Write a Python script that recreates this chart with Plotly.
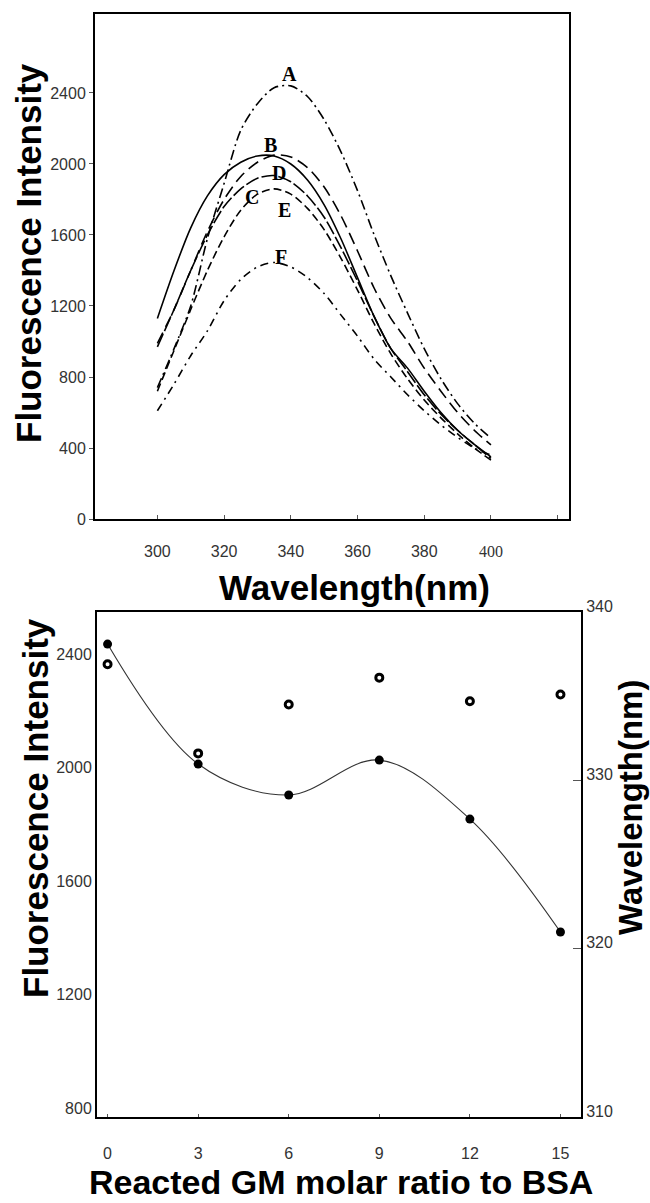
import plotly.graph_objects as go

# ---------------- data: top panel (emission spectra) ----------------
wavelength = [300, 305, 310, 315, 320, 325, 330, 335, 340, 345, 350,
              355, 360, 365, 370, 375, 380, 385, 390, 395, 400]
spec_A = [740, 960, 1200, 1580, 1890, 2190, 2340, 2430, 2440, 2380, 2250,
          2070, 1850, 1600, 1370, 1160, 960, 790, 650, 540, 456]
spec_B = [1130, 1400, 1640, 1820, 1940, 2010, 2045, 2045, 2000, 1910, 1770,
          1580, 1360, 1140, 960, 850, 720, 600, 500, 420, 350]
spec_C = [970, 1180, 1400, 1600, 1760, 1860, 1920, 1935, 1900, 1820, 1700,
          1530, 1340, 1140, 960, 830, 700, 590, 500, 420, 342]
spec_D = [990, 1180, 1400, 1620, 1800, 1930, 2010, 2050, 2040, 1980, 1870,
          1710, 1510, 1300, 1130, 1000, 850, 720, 600, 500, 417]
spec_E = [720, 950, 1180, 1400, 1590, 1740, 1830, 1860, 1830, 1750, 1630,
          1470, 1290, 1100, 930, 790, 670, 570, 480, 400, 332]
spec_F = [610, 760, 920, 1060, 1230, 1350, 1420, 1445, 1420, 1360, 1270,
          1150, 1030, 900, 800, 700, 610, 530, 460, 400, 360]
spec_names = ["A", "B", "C", "D", "E", "F"]

top_xtick_vals = [300, 320, 340, 360, 380, 400, 420]
top_xtick_text = ["300", "320", "340", "360", "380",
                  '<span style="font-family:Liberation Serif">400</span>', ""]
top_ytick_vals = [0, 400, 800, 1200, 1600, 2000, 2400]

# ---------------- data: bottom panel ----------------
gm_ratio = [0, 3, 6, 9, 12, 15]
max_intensity = [2467, 2044, 1935, 2058, 1850, 1452]
max_wavelength = [336.9, 331.6, 334.5, 336.1, 334.7, 335.1]
bot_xtick_vals = [0, 3, 6, 9, 12, 15]
bot_ytick_vals = [800, 1200, 1600, 2000, 2400]
bot_y2tick_vals = [310, 320, 330, 340]

# ---------------- figure ----------------
W, H = 650, 1203
fig = go.Figure()

styles = {
    "A": "10px,4px,2px,4px",
    "B": "solid",
    "C": "14px,3px",
    "D": "12px,6px",
    "E": "8px,4px",
    "F": "8px,5px,2px,5px",
}
series = [spec_A, spec_B, spec_C, spec_D, spec_E, spec_F]
for name, vals in zip(spec_names, series):
    fig.add_trace(go.Scatter(
        x=wavelength, y=vals, mode="lines", name=name,
        line=dict(color="black", width=1.6, dash=styles[name], shape="spline", smoothing=0.8),
        xaxis="x", yaxis="y", showlegend=False, hoverinfo="skip"))

# bottom panel
fig.add_trace(go.Scatter(
    x=gm_ratio, y=max_intensity, mode="lines+markers",
    line=dict(color="#333", width=1.1, shape="spline", smoothing=1.0),
    marker=dict(symbol="circle", size=9, color="black"),
    xaxis="x2", yaxis="y2", showlegend=False))
fig.add_trace(go.Scatter(
    x=gm_ratio, y=max_wavelength, mode="markers",
    marker=dict(symbol="circle", size=7, color="white",
                line=dict(color="black", width=3)),
    xaxis="x2", yaxis="y3", showlegend=False))

def px_x(p):
    return p / W

def px_y(p):
    return 1 - p / H

tickfont = dict(family="Liberation Sans, Arial", size=16, color="#333")
axis_common = dict(showline=True, linecolor="black", linewidth=2, showgrid=False,
                   zeroline=False, tickfont=tickfont, tickcolor="#555")

fig.update_layout(
    width=W, height=H, margin=dict(l=0, r=0, t=0, b=0, autoexpand=False),
    plot_bgcolor="white", paper_bgcolor="white",
    xaxis=dict(domain=[px_x(95), px_x(569)], anchor="y", range=[281.3, 423.4],
               tickvals=top_xtick_vals, ticktext=top_xtick_text,
               ticks="inside", ticklen=4, mirror=True, ticklabelstandoff=17,
               **axis_common),
    yaxis=dict(domain=[px_y(519), px_y(14)], anchor="x", range=[0, 2845],
               tickvals=top_ytick_vals, ticks="outside", ticklen=4, mirror=True,
               **axis_common),
    xaxis2=dict(domain=[px_x(97), px_x(581)], anchor="y2", range=[-0.35, 15.68],
                tickvals=bot_xtick_vals, ticks="inside", ticklen=3, mirror=True,
                ticklabelstandoff=21, **axis_common),
    yaxis2=dict(domain=[px_y(1117), px_y(612)], anchor="x2", range=[800, 2580],
                tickvals=bot_ytick_vals, ticks="", ticklabelshift=-9,
                **axis_common),
    yaxis3=dict(overlaying="y2", side="right", anchor="x2", range=[310, 340],
                tickvals=bot_y2tick_vals, ticks="inside", ticklen=8,
                ticklabelshift=-6, **axis_common),
)

title_font = dict(family="Liberation Sans, Arial", size=35, color="black")
right_title_font = dict(family="Liberation Sans, Arial", size=33, color="black")
bottom_title_font = dict(family="Liberation Sans, Arial", size=34, color="black")
label_font = dict(family="Liberation Serif, Times New Roman", size=20, color="black")

ann = []
ann.append(dict(text="<b>Fluorescence Intensity</b>", x=px_x(29), y=px_y(253),
                xref="paper", yref="paper", textangle=-90, showarrow=False,
                font=title_font, xanchor="center", yanchor="middle"))
ann.append(dict(text="<b>Wavelength(nm)</b>", x=px_x(354), y=px_y(587),
                xref="paper", yref="paper", showarrow=False,
                font=title_font, xanchor="center", yanchor="middle"))
ann.append(dict(text="<b>Fluorescence Intensity</b>", x=px_x(35), y=px_y(808),
                xref="paper", yref="paper", textangle=-90, showarrow=False,
                font=title_font, xanchor="center", yanchor="middle"))
ann.append(dict(text="<b>Wavelength(nm)</b>", x=px_x(630), y=px_y(808),
                xref="paper", yref="paper", textangle=-90, showarrow=False,
                font=right_title_font, xanchor="center", yanchor="middle"))
ann.append(dict(text="<b>Reacted GM molar ratio to BSA</b>", x=px_x(341), y=px_y(1182),
                xref="paper", yref="paper", showarrow=False,
                font=bottom_title_font, xanchor="center", yanchor="middle"))

label_pos = {"A": (339.6, 2507), "B": (334.0, 2107), "C": (328.4, 1816),
             "D": (336.5, 1948), "E": (338.1, 1741), "F": (337.1, 1478)}
for name in spec_names:
    lx, ly = label_pos[name]
    ann.append(dict(text="<b>%s</b>" % name, x=lx, y=ly, xref="x", yref="y",
                    showarrow=False, font=label_font))

fig.update_layout(annotations=ann)
fig.write_html("out.html")
